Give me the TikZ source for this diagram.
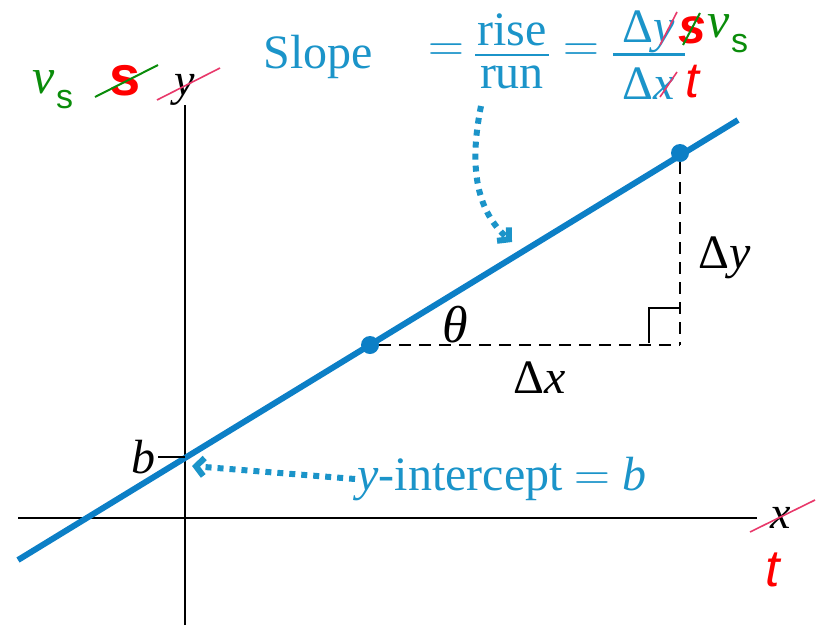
\documentclass[tikz,border=0pt]{standalone}
\usepackage{amsmath}
\usepackage{fontspec}
\setmainfont{Liberation Serif}
\setsansfont{Liberation Sans}
\usetikzlibrary{arrows.meta}
\definecolor{slpBlue}{HTML}{0C7FC6}
\definecolor{slpText}{HTML}{1B94C9}
\definecolor{slpGreen}{HTML}{0A8C0A}
\definecolor{slpRed}{HTML}{FF0000}
\definecolor{slpPink}{HTML}{E8386A}
\newcommand{\velsub}{\textit{v}\kern0.5pt\raisebox{-0.3em}{\sffamily\fontsize{17}{17}\selectfont s}}
% pad, numerator depth, denominator height, numerator, denominator
\newcommand{\stackfrac}[5]{{\renewcommand{\arraystretch}{0}\setlength{\arrayrulewidth}{1.2pt}%
  \begin{tabular}{@{\hspace{#1}}c@{\hspace{#1}}}\rule[-#2]{0pt}{\dimexpr20pt+#2\relax}#4\\\hline
  \rule[-6pt]{0pt}{\dimexpr#3+6pt\relax}#5\end{tabular}}}
\tikzset{
    axisline/.style={line width=1.3pt, draw=black},
    slopeline/.style={line width=3pt, draw=slpBlue},
    guide/.style={line width=0.8pt, draw=black, dash pattern=on 6pt off 4pt},
    corner/.style={line width=0.7pt, draw=black},
    dotptr/.style={line width=3pt, draw=slpText, dash pattern=on 3pt off 3pt, -{Straight Barb[length=4pt,width=9pt]}},
    dotpt/.style={circle, fill=slpBlue, inner sep=0pt, minimum size=9pt},
    bluetxt/.style={text=slpText, inner sep=1pt, font=\fontsize{24}{28}\selectfont},
    blktxt/.style={text=black, inner sep=1pt, font=\fontsize{24}{28}\selectfont},
    grntxt/.style={text=slpGreen, inner sep=1pt, font=\fontsize{25}{28}\selectfont},
    redtxt/.style={text=slpRed, inner sep=1pt, font=\sffamily\fontsize{25}{28}\selectfont},
    strikeP/.style={draw=slpPink, line width=0.8pt},
    strikeG/.style={draw=slpGreen, line width=1pt}
}
\begin{document}
\begin{tikzpicture}[x=0.5pt, y=-0.5pt]
\useasboundingbox (0,0) rectangle (819,627);
% axes
\coordinate (xa0) at (18,518);
\coordinate (xa1) at (757,518);
\coordinate (ya0) at (185,625);
\coordinate (ya1) at (185,105);
\draw[axisline] (xa0) -- (xa1);
\draw[axisline] (ya0) -- (ya1);
\node[blktxt, font=\fontsize{23}{26}\selectfont\itshape] (xlab) at (781,518) {x};
\node[blktxt, font=\fontsize{23}{26}\selectfont\itshape] (ylab) at (185,90) {y};
% line y = mx + b
\coordinate (ln0) at (18,560);
\coordinate (ln1) at (738,120);
\draw[slopeline] (ln0) -- (ln1);
\coordinate (bcut) at (185,457);
\coordinate (btick) at (158,457);
\draw[line width=1pt] (btick) -- (bcut);
\node[blktxt, font=\fontsize{24}{28}\selectfont\itshape, anchor=east] (blab) at (btick) {b};
% rise and run
\node[dotpt] (p1) at (370,345) {};
\node[dotpt] (p2) at (680,153) {};
\coordinate (rc) at (680,345);
\draw[guide] (p1) -- (rc);
\draw[guide] (p2) -- (rc);
\draw[corner] ([shift={(-31,-2)}]rc) -- ([shift={(-31,-37)}]rc) -- ([shift={(0,-37)}]rc);
\node[blktxt, font=\fontsize{26}{28}\selectfont\itshape] (th) at (455,325) {θ};
\node[blktxt] (dx) at (540,378) {Δ\textit{x}};
\node[blktxt] (dy) at (725,258) {Δ\textit{y}};
% slope formula
\node[bluetxt] (slope) at (318,57) {Slope};
\node[bluetxt] (eqa) at (446,53) {$=$};
\node[bluetxt, inner sep=0pt] (frac1) at (512,53) {\stackfrac{1pt}{4pt}{16pt}{rise}{run}};
\node[bluetxt] (eqb) at (581,53) {$=$};
\node[bluetxt, inner sep=0pt] (frac2) at (649,57) {\stackfrac{5pt}{5.5pt}{22pt}{Δ\textit{y}}{Δ\textit{x}}};
\draw[strikeP] ([shift={(11,-12)}]frac2.center) -- ([shift={(28,-45)}]frac2.center);
\draw[strikeP] ([shift={(11,40)}]frac2.center) -- ([shift={(28,15)}]frac2.center);
\node[redtxt, font=\sffamily\bfseries\itshape\fontsize{25}{28}\selectfont] (s2) at (692,30) {s};
\draw[strikeG] ([shift={(-9,15)}]s2.center) -- ([shift={(8,-17)}]s2.center);
\node[grntxt] (v2) at (728,34) {\velsub};
\node[redtxt, font=\sffamily\itshape\fontsize{25}{28}\selectfont] (t2) at (692,82) {t};
\coordinate (sa0) at (481,106);
\coordinate (sa1) at (512,242);
\draw[dotptr] (sa0) .. controls (468,170) and (478,212) .. (sa1);
% intercept
\node[bluetxt] (yint) at (502,479) {\textit{y}-intercept $=$ \textit{b}};
\coordinate (itip) at (192,466);
\draw[dotptr] (yint.west) -- (itip);
% change of variables
\node[grntxt] (v1) at (53,90) {\velsub};
\node[redtxt, font=\sffamily\bfseries\fontsize{28}{30}\selectfont] (s1) at (125,81) {s};
\draw[strikeG] ([shift={(-30,16)}]s1.center) -- ([shift={(33,-16)}]s1.center);
\draw[strikeP] ([shift={(-28,10)}]ylab.center) -- ([shift={(35,-22)}]ylab.center);
\draw[strikeP] ([shift={(-31,14)}]xlab.center) -- ([shift={(34,-18)}]xlab.center);
\node[redtxt, font=\sffamily\itshape\fontsize{26}{28}\selectfont] (t1) at (773,570) {t};
\end{tikzpicture}
\end{document}
